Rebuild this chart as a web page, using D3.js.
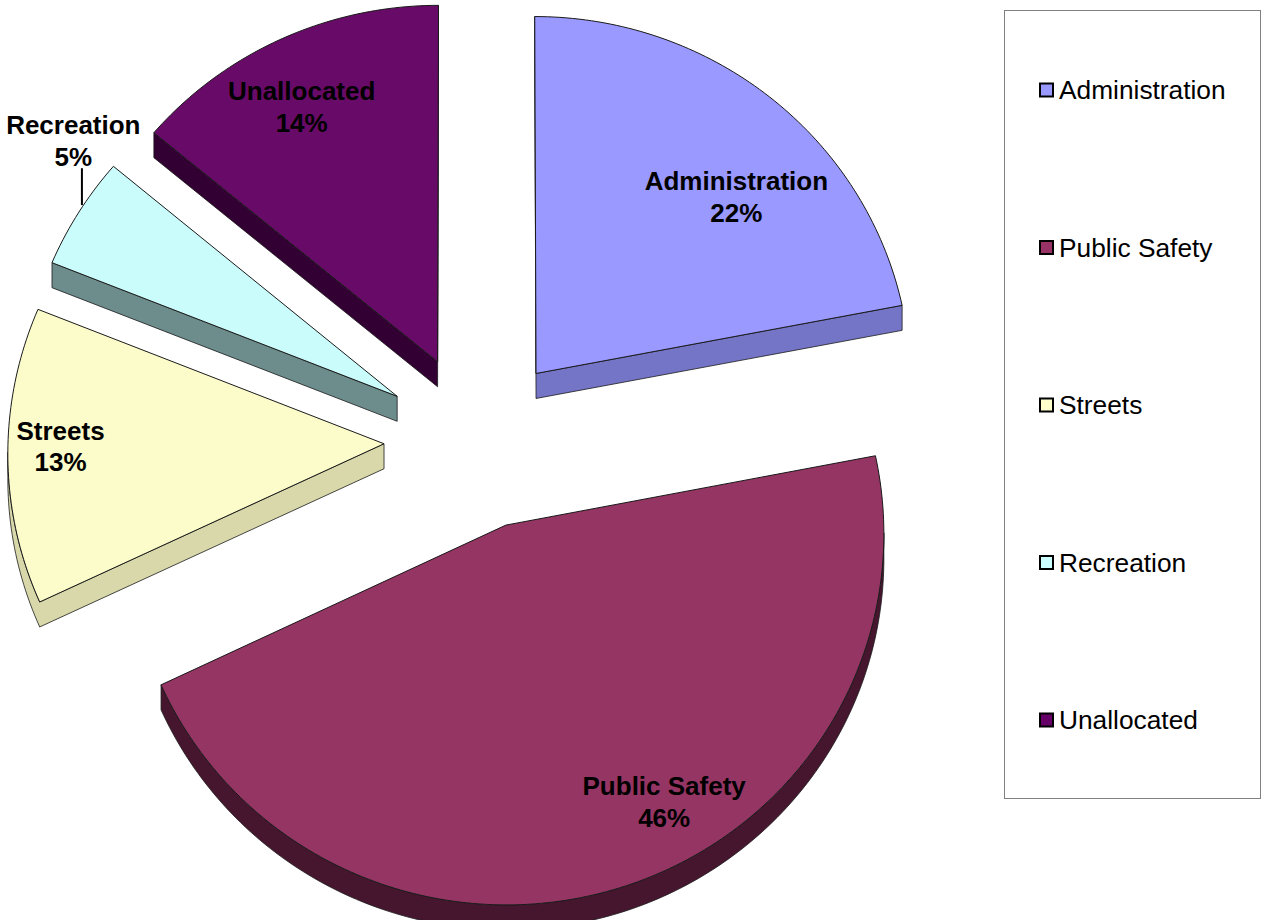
<!DOCTYPE html>
<html>
<head>
<meta charset="utf-8">
<script src="https://cdn.jsdelivr.net/npm/d3@7"></script>
<style>
body { margin: 0; background: #fff; }
text { font-family: "Liberation Sans", Arial, sans-serif; }
</style>
</head>
<body>
<div id="chart"></div>
<script>
// budget shares, clockwise from 12 o'clock
var categories = ["Administration", "Public Safety", "Streets", "Recreation", "Unallocated"];
var values = [22, 46, 13, 5, 14];
var baseColors = ["#9999ff", "#993366", "#ffffcc", "#ccffff", "#660066"];
var topColors = ["#9999ff", "#953563", "#fcfccb", "#cbfcfc", "#680a68"];
var sideColors = ["#7575c8", "#46162f", "#d8d8ab", "#6d8c8c", "#320032"];

var width = 1262, height = 920;
// 3d pie layout (tilted, slight perspective)
var cx = 477, cy = 441, rx = 376, ry = 368,
	ex = 93, ey = 88, depth = 25, warp = 0.022;

// where the data labels sit: [angle in degrees, fraction of radius]
var labelPlace = {
	"Administration": [48, 0.73],
	"Public Safety": [150.7, 0.84],
	"Streets": [269.5, 0.86],
	"Recreation": [308.8, 1.13],
	"Unallocated": [332.4, 0.80]
};

var total = d3.sum(values);
var color = d3.scaleOrdinal().domain(categories).range(topColors);
var side = d3.scaleOrdinal().domain(categories).range(sideColors);
var swatch = d3.scaleOrdinal().domain(categories).range(baseColors);

var arcs = d3.pie().sort(null).value(function(d) { return d; })(values);

function project(mid, theta, f) {
	var u = ex * Math.sin(mid) + f * rx * Math.sin(theta);
	var v = -ey * Math.cos(mid) - f * ry * Math.cos(theta);
	var s = 1 + warp * v / ry;
	return [cx + u * s, cy + v * s];
}

var svg = d3.select("#chart").append("svg")
	.attr("width", width)
	.attr("height", height);

var line = d3.line();

var slices = arcs.map(function(a, i) {
	var mid = (a.startAngle + a.endAngle) / 2;
	var pts = [project(mid, 0, 0)];
	var n = Math.max(4, Math.ceil((a.endAngle - a.startAngle) / (Math.PI / 180)));
	for (var k = 0; k <= n; k++) {
		var t = a.startAngle + (a.endAngle - a.startAngle) * k / n;
		pts.push(project(mid, t, 1));
	}
	return { name: categories[i], value: a.value, mid: mid, pts: pts, apex: pts[0] };
});

// back slices first
var order = slices.slice().sort(function(a, b) { return a.apex[1] - b.apex[1]; });

order.forEach(function(sl) {
	var pts = sl.pts, n = pts.length;
	var front = pts.map(function(p, i) {
		var q = pts[(i + 1) % n];
		return q[0] - p[0] < -0.01;
	});
	// start from a back-facing edge so runs don't wrap
	var start = front.indexOf(false);
	var runs = [], cur = null;
	for (var j = 0; j < n; j++) {
		var i = (start + j) % n;
		if (front[i]) {
			if (!cur) { cur = [pts[i]]; runs.push(cur); }
			cur.push(pts[(i + 1) % n]);
		} else {
			cur = null;
		}
	}
	var g = svg.append("g").attr("class", "slice");
	runs.forEach(function(r) {
		var poly = r.concat(r.slice().reverse().map(function(p) { return [p[0], p[1] + depth]; }));
		g.append("path")
			.attr("d", line(poly) + "Z")
			.attr("fill", side(sl.name))
			.attr("stroke", "#1a1a1a")
			.attr("stroke-width", 0.8)
			.attr("stroke-linejoin", "round");
	});
	g.append("path")
		.attr("d", line(pts) + "Z")
		.attr("fill", color(sl.name))
		.attr("stroke", "#1a1a1a")
		.attr("stroke-width", 1)
		.attr("stroke-linejoin", "round");
});

// data labels
slices.forEach(function(sl) {
	var lp = labelPlace[sl.name];
	var c = project(sl.mid, lp[0] * Math.PI / 180, lp[1]);
	var t = svg.append("text")
		.attr("x", c[0])
		.attr("y", c[1])
		.attr("text-anchor", "middle")
		.attr("font-size", 26)
		.attr("font-weight", "bold")
		.attr("fill", "#000");
	t.append("tspan").attr("x", c[0]).attr("dy", "-0.27em").text(sl.name);
	t.append("tspan").attr("x", c[0]).attr("dy", "1.23em")
		.text(Math.round(sl.value / total * 100) + "%");
	if (lp[1] > 1) {
		var e = project(sl.mid, sl.mid, 1);
		svg.append("line")
			.attr("x1", e[0] + 3).attr("y1", e[1] - 7)
			.attr("x2", e[0] + 3).attr("y2", c[1] + 27)
			.attr("stroke", "#000")
			.attr("stroke-width", 2);
	}
});

// legend
var legend = svg.append("g").attr("class", "legend");
legend.append("rect")
	.attr("x", 1004.5).attr("y", 10.5)
	.attr("width", 256).attr("height", 788)
	.attr("fill", "#fff")
	.attr("stroke", "#808080");

var ly = d3.scalePoint().domain(categories).range([90, 720]);

var item = legend.selectAll("g.item")
	.data(categories)
	.enter()
	.append("g")
	.attr("class", "item")
	.attr("transform", function(d) { return "translate(1040," + ly(d) + ")"; });

item.append("rect")
	.attr("x", 0).attr("y", -6.5)
	.attr("width", 13).attr("height", 13)
	.attr("fill", function(d) { return swatch(d); })
	.attr("stroke", "#000")
	.attr("stroke-width", 2);

item.append("text")
	.attr("x", 19)
	.attr("y", 0)
	.attr("dy", "0.35em")
	.attr("font-size", 26.3)
	.text(function(d) { return d; });
</script>
</body>
</html>
